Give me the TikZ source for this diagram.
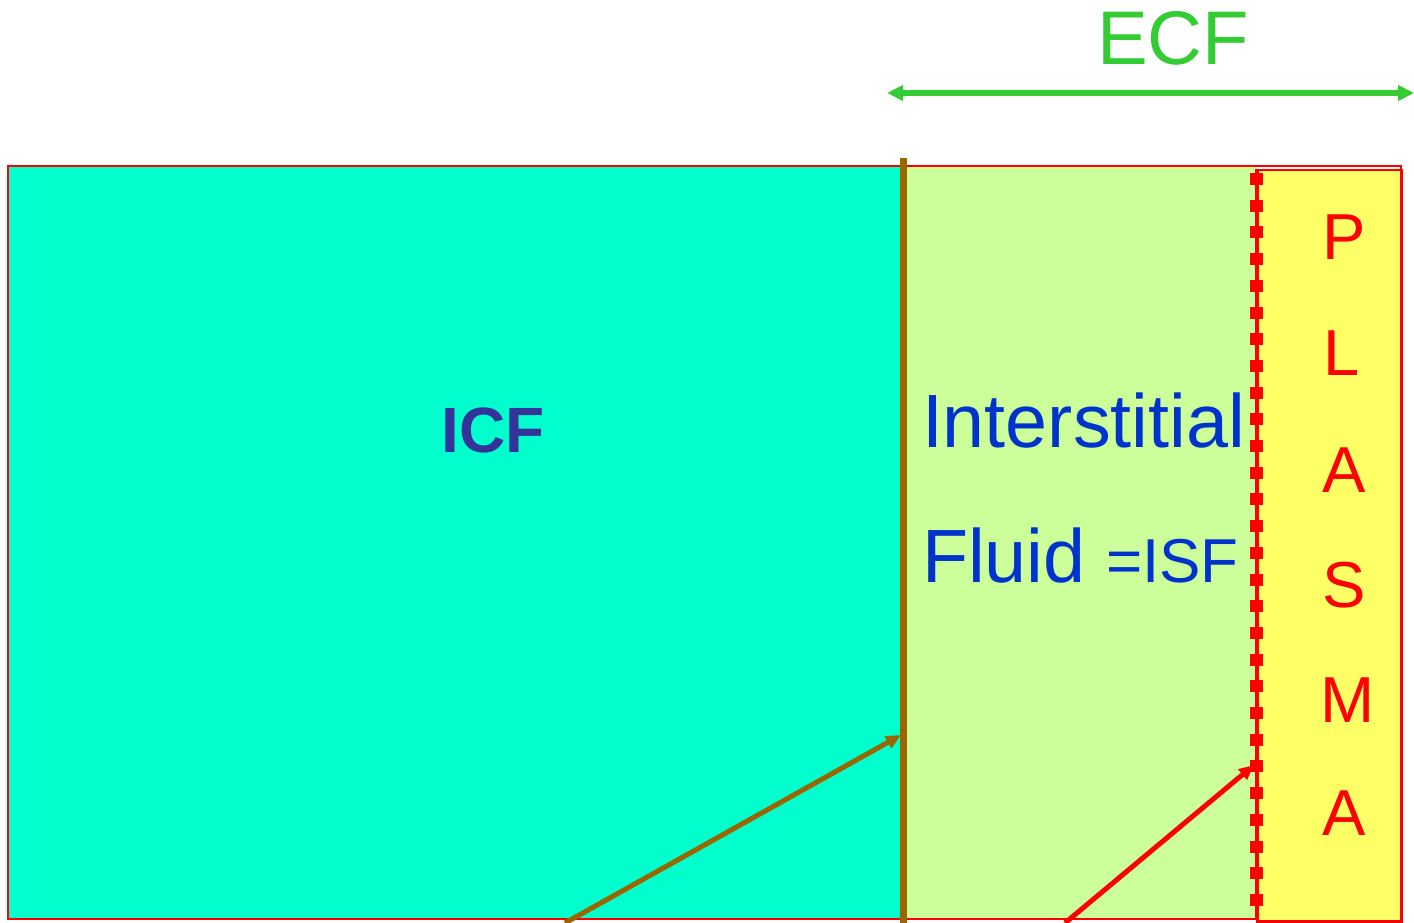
\documentclass[tikz,border=0pt]{standalone}
\usepackage{fontspec}
\setmainfont{Liberation Sans}
\usetikzlibrary{arrows.meta}
\definecolor{icfc}{HTML}{00FFCC}
\definecolor{isfc}{HTML}{CCFF99}
\definecolor{plc}{HTML}{FFFF66}
\definecolor{redc}{HTML}{FF0000}
\definecolor{brownc}{HTML}{996600}
\definecolor{greenc}{HTML}{33CC33}
\definecolor{bluec}{HTML}{0033CC}
\definecolor{icftxt}{HTML}{333399}
\tikzset{
  lbl/.style={inner sep=0pt, outer sep=0pt},
  plet/.style={lbl, text=redc, font=\fontsize{65}{65}\selectfont},
  arr/.style={-{Triangle[length=15pt,width=13pt]}, line width=5pt},
}
\begin{document}
\begin{tikzpicture}[x=1pt,y=-1pt]
\useasboundingbox (0,0) rectangle (1414,923);
% regions
\fill[icfc] (8,166) rectangle (903,920);
\fill[isfc] (903,166) rectangle (1256,920);
\draw[redc, line width=2.5pt] (8,920) -- (8,166) -- (1401,166) -- (1401,169);
\draw[redc, line width=2pt] (8,919) -- (1256,919);
\node[draw=redc, fill=plc, line width=2.5pt, minimum width=144pt, minimum height=751pt, anchor=north west, inner sep=0pt] (plasma) at (1256,169) {};
% membranes
\draw[brownc, line width=7pt] (903,158) coordinate (cmtop) -- (903,923) coordinate (cmbot);
\draw[redc, line width=2pt] (1256,169) -- (1256,920);
\draw[redc, line width=13pt, dash pattern=on 12pt off 14.7pt] (1256,173) coordinate (captop) -- (1256,920) coordinate (capbot);
% ECF
\node[lbl, text=greenc, font=\fontsize{76}{76}\selectfont] (ecf) at (1173,38) {ECF};
\coordinate (ecfl) at (887,93);
\coordinate (ecfr) at (1414,93);
\draw[greenc, line width=6pt, {Triangle[length=16pt,width=15pt]}-{Triangle[length=16pt,width=15pt]}] (ecfl) -- (ecfr);
% labels
\node[lbl, text=icftxt, font=\bfseries\fontsize{64}{64}\selectfont] (icf) at (493,430) {ICF};
\node[lbl, anchor=base west, text=bluec, font=\fontsize{75.5}{75.5}\selectfont] (inter) at (922,447) {Interstitial};
\node[lbl, anchor=base west, text=bluec, font=\fontsize{75.5}{75.5}\selectfont] (fluid) at (922,582) {Fluid};
\node[lbl, anchor=base west, text=bluec, font=\fontsize{62}{62}\selectfont] (isf) at (1106,582) {=ISF};
% PLASMA
\node[plet] (p1) at (1344,237) {P};
\node[plet] (p2) at (1342,353) {L};
\node[plet] (p3) at (1344,470) {A};
\node[plet] (p4) at (1344,585) {S};
\node[plet] (p5) at (1348,700) {M};
\node[plet] (p6) at (1344,813) {A};
% arrows
\coordinate (a1s) at (565,923);
\coordinate (a1e) at (901,735);
\draw[arr, brownc] (a1s) -- (a1e);
\coordinate (a2s) at (1065,923);
\coordinate (a2e) at (1254,765);
\draw[arr, redc] (a2s) -- (a2e);
\end{tikzpicture}
\end{document}
